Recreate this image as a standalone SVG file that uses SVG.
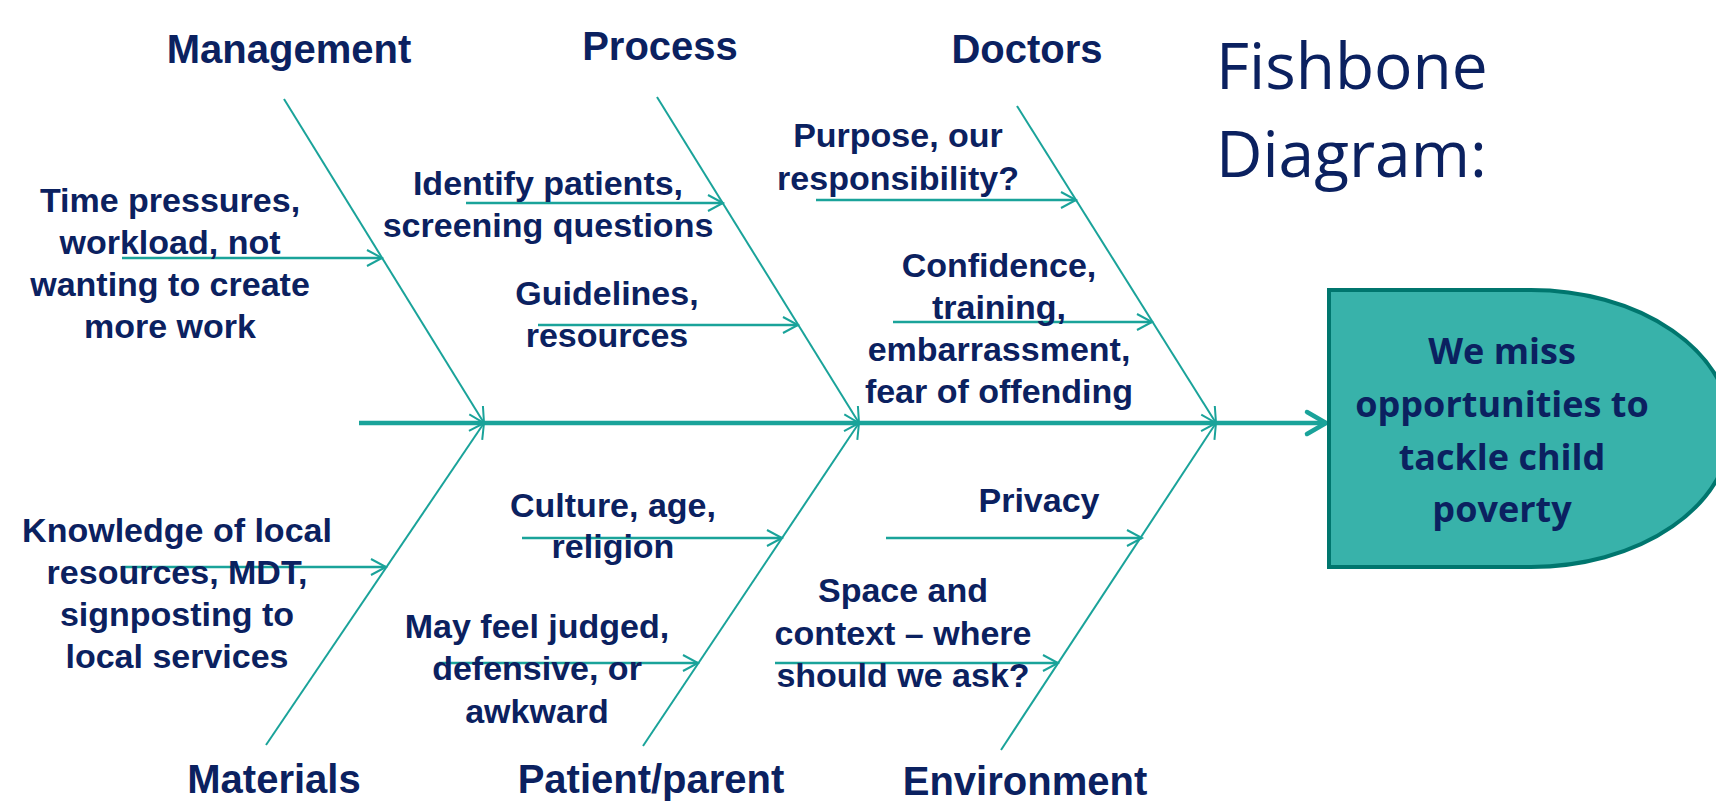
<svg xmlns="http://www.w3.org/2000/svg" width="1716" height="803" viewBox="0 0 1716 803">
<style>
.lbl{font-family:"Liberation Sans",Arial,sans-serif;font-weight:700;fill:#0B2160;text-anchor:middle}
.cat{font-size:40px}
.sub{font-size:34px}
.bone{stroke:#1AA39A;stroke-width:2;fill:none}
.sarr{stroke:#1AA39A;stroke-width:2.5;fill:none}
.title{font-family:"Open Sans","Noto Sans",sans-serif;font-size:64px;fill:#0B2160}
.boxt{font-family:"Open Sans","Noto Sans",sans-serif;font-weight:700;font-size:36px;fill:#0B2160;text-anchor:middle}
</style>
<defs>
<marker id="arr" markerUnits="userSpaceOnUse" viewBox="-18 -12 20 24" refX="0" refY="0" markerWidth="20" markerHeight="24" orient="auto" overflow="visible">
<path d="M-15,-8 L0,0 L-15,8" fill="none" stroke="#1AA39A" stroke-width="2"/>
</marker>
<marker id="big" markerUnits="userSpaceOnUse" viewBox="-24 -16 28 32" refX="0" refY="0" markerWidth="28" markerHeight="32" orient="auto" overflow="visible">
<path d="M-19,-11 L0,0 L-19,11" fill="none" stroke="#1AA39A" stroke-width="4.5" stroke-linecap="round" stroke-linejoin="round"/>
</marker>
</defs>
<rect width="1716" height="803" fill="#fff"/>

<g id="connectors">
<line x1="359" y1="423" x2="1326" y2="423" stroke="#1AA39A" stroke-width="4.5" marker-end="url(#big)"/>
<line class="bone" x1="284" y1="99" x2="484" y2="423" marker-end="url(#arr)"/>
<line class="bone" x1="266" y1="745" x2="484" y2="423" marker-end="url(#arr)"/>
<line class="bone" x1="657" y1="97" x2="859" y2="423" marker-end="url(#arr)"/>
<line class="bone" x1="643" y1="746" x2="859" y2="423" marker-end="url(#arr)"/>
<line class="bone" x1="1017" y1="106" x2="1216" y2="423" marker-end="url(#arr)"/>
<line class="bone" x1="1001" y1="750" x2="1216" y2="423" marker-end="url(#arr)"/>
<line class="sarr" x1="122" y1="258" x2="382" y2="258" marker-end="url(#arr)"/>
<line class="sarr" x1="466" y1="203" x2="723" y2="203" marker-end="url(#arr)"/>
<line class="sarr" x1="538" y1="325" x2="798" y2="325" marker-end="url(#arr)"/>
<line class="sarr" x1="816" y1="200" x2="1076" y2="200" marker-end="url(#arr)"/>
<line class="sarr" x1="893" y1="322" x2="1152" y2="322" marker-end="url(#arr)"/>
<line class="sarr" x1="122" y1="567" x2="386" y2="567" marker-end="url(#arr)"/>
<line class="sarr" x1="522" y1="538" x2="782" y2="538" marker-end="url(#arr)"/>
<line class="sarr" x1="439" y1="663" x2="698" y2="663" marker-end="url(#arr)"/>
<line class="sarr" x1="886" y1="538" x2="1142" y2="538" marker-end="url(#arr)"/>
<line class="sarr" x1="775" y1="663" x2="1058" y2="663" marker-end="url(#arr)"/>
</g>

<g id="title">
<text class="title" x="1216" y="89">Fishbone</text>
<text class="title" x="1216" y="177">Diagram:</text>
</g>

<g id="effect">
<path d="M1329,290 L1531,290 A200,138.5 0 0 1 1531,567 L1329,567 Z" fill="#38B2AA" stroke="#00766E" stroke-width="4"/>
<text class="boxt" x="1502" y="364">We miss</text>
<text class="boxt" x="1502" y="417">opportunities to</text>
<text class="boxt" x="1502" y="470">tackle child</text>
<text class="boxt" x="1502" y="522">poverty</text>
</g>

<g id="cat-management"><text class="lbl cat" x="289" y="63">Management</text></g>
<g id="cat-process"><text class="lbl cat" x="660" y="60">Process</text></g>
<g id="cat-doctors"><text class="lbl cat" x="1027" y="63">Doctors</text></g>
<g id="cat-materials"><text class="lbl cat" x="274" y="793">Materials</text></g>
<g id="cat-patient"><text class="lbl cat" x="651" y="793">Patient/parent</text></g>
<g id="cat-environment"><text class="lbl cat" x="1025" y="795">Environment</text></g>

<g id="cause-time" class="lbl sub">
<text class="lbl sub" x="170" y="212">Time pressures,</text>
<text class="lbl sub" x="170" y="254">workload, not</text>
<text class="lbl sub" x="170" y="296">wanting to create</text>
<text class="lbl sub" x="170" y="338">more work</text>
</g>
<g id="cause-identify">
<text class="lbl sub" x="548" y="195">Identify patients,</text>
<text class="lbl sub" x="548" y="237">screening questions</text>
</g>
<g id="cause-guidelines">
<text class="lbl sub" x="607" y="305">Guidelines,</text>
<text class="lbl sub" x="607" y="347">resources</text>
</g>
<g id="cause-purpose">
<text class="lbl sub" x="898" y="147">Purpose, our</text>
<text class="lbl sub" x="898" y="190">responsibility?</text>
</g>
<g id="cause-confidence">
<text class="lbl sub" x="999" y="277">Confidence,</text>
<text class="lbl sub" x="999" y="319">training,</text>
<text class="lbl sub" x="999" y="361">embarrassment,</text>
<text class="lbl sub" x="999" y="403">fear of offending</text>
</g>
<g id="cause-knowledge">
<text class="lbl sub" x="177" y="542">Knowledge of local</text>
<text class="lbl sub" x="177" y="584">resources, MDT,</text>
<text class="lbl sub" x="177" y="626">signposting to</text>
<text class="lbl sub" x="177" y="668">local services</text>
</g>
<g id="cause-culture">
<text class="lbl sub" x="613" y="517">Culture, age,</text>
<text class="lbl sub" x="613" y="558">religion</text>
</g>
<g id="cause-judged">
<text class="lbl sub" x="537" y="638">May feel judged,</text>
<text class="lbl sub" x="537" y="680">defensive, or</text>
<text class="lbl sub" x="537" y="723">awkward</text>
</g>
<g id="cause-privacy">
<text class="lbl sub" x="1039" y="512">Privacy</text>
</g>
<g id="cause-space">
<text class="lbl sub" x="903" y="602">Space and</text>
<text class="lbl sub" x="903" y="645">context – where</text>
<text class="lbl sub" x="903" y="687">should we ask?</text>
</g>
</svg>
